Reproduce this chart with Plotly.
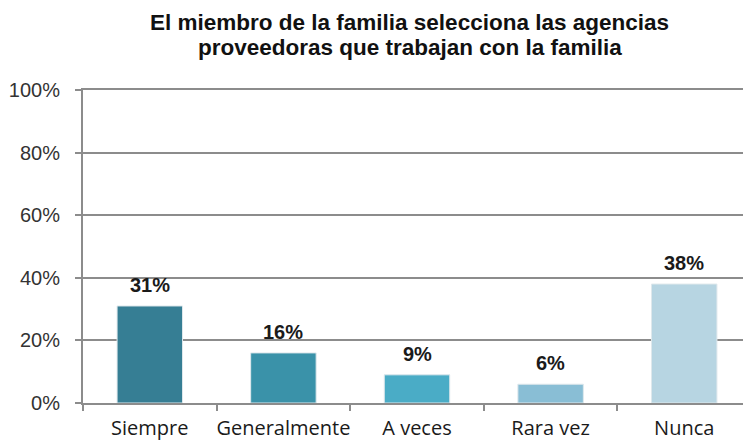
import plotly.graph_objects as go

# Survey responses: how often the family member selects the provider agencies
categories = ["Siempre", "Generalmente", "A veces", "Rara vez", "Nunca"]
percentages = [31, 16, 9, 6, 38]
bar_colors = ["#367e94", "#3a92a9", "#4aacc6", "#89bed5", "#b7d5e2"]
y_ticks = [0, 20, 40, 60, 80, 100]
y_tick_labels = [f"{v}%" for v in y_ticks]
title_lines = ["El miembro de la familia selecciona las agencias",
               "proveedoras que trabajan con la familia"]

PLOT_TOP, PLOT_BOTTOM = 90, 403  # pixel rows of the plotting area

fig = go.Figure()
fig.add_trace(go.Bar(
    x=categories,
    y=percentages,
    width=0.49,
    marker=dict(color=bar_colors, line=dict(color="#dfe8ec", width=1)),
    hoverinfo="skip",
))

# Value labels floating above each bar
for cat, val in zip(categories, percentages):
    fig.add_annotation(
        x=cat, y=val, xref="x", yref="y",
        text=f"<b>{val}%</b>", showarrow=False,
        yanchor="bottom", yshift=8,
        font=dict(family="Liberation Sans, Arial", size=20, color="#1a1a1a"),
    )

# Two-line bold heading with tight line spacing
for line, center_px in zip(title_lines, [22, 47]):
    fig.add_annotation(
        x=0.495, xref="paper", xanchor="center",
        y=(PLOT_BOTTOM - center_px) / (PLOT_BOTTOM - PLOT_TOP), yref="paper",
        yanchor="middle", borderpad=0,
        text=f"<b>{line}</b>", showarrow=False,
        font=dict(family="Liberation Sans, Arial", size=22.5, color="#111111"),
    )

fig.update_layout(
    width=743, height=440,
    margin=dict(l=83, r=0, t=PLOT_TOP, b=440 - PLOT_BOTTOM, autoexpand=False),
    paper_bgcolor="white", plot_bgcolor="white",
    showlegend=False,
    bargap=0.51,
)

fig.update_xaxes(
    type="category",
    range=[-0.5, 4.44],
    tickson="boundaries",
    tickangle=0, automargin=False,
    ticks="outside", ticklen=6, tickwidth=2, tickcolor="#8c8c8c",
    showline=True, mirror=True, linecolor="#8c8c8c", linewidth=2,
    showgrid=False,
    tickfont=dict(family="Open Sans", size=20, color="#1a1a1a"),
    ticklabelstandoff=6,
)

fig.update_yaxes(
    range=[0, 100],
    automargin=False,
    tickvals=y_ticks, ticktext=y_tick_labels,
    ticks="outside", ticklen=6, tickwidth=2, tickcolor="#8c8c8c",
    showline=True, linecolor="#8c8c8c", linewidth=2,
    showgrid=True, gridcolor="#8c8c8c", gridwidth=2,
    zeroline=False,
    tickfont=dict(family="Liberation Sans, Arial", size=20, color="#333333"),
    ticklabelstandoff=11,
)

fig.write_html("out.html")
